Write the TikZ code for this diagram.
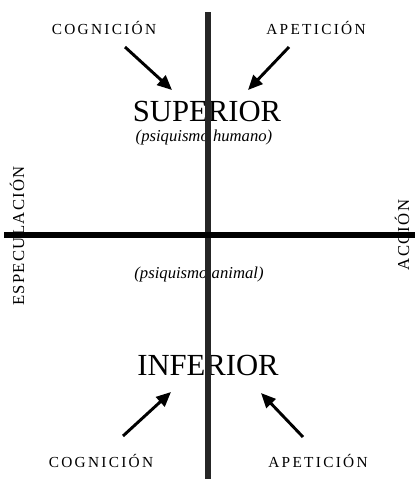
\documentclass[tikz,border=0pt]{standalone}
\usepackage{fontspec}
\setmainfont{Liberation Serif}
\newfontfamily\capsfont[LetterSpace=15]{Liberation Serif}
\newfontfamily\sidefont[LetterSpace=8]{Liberation Serif}
\usetikzlibrary{arrows.meta}

\tikzset{every picture/.style={line width=0.75pt}}
\tikzset{
label caps/.style={inner sep=0.75pt,font=\capsfont\fontsize{11.5}{13}\selectfont},
side caps/.style={inner sep=0.75pt,rotate=90,font=\sidefont\fontsize{12.5}{14}\selectfont},
big word/.style={inner sep=0.75pt,font=\fontsize{23}{26}\selectfont},
psi note/.style={inner sep=0.75pt,font=\itshape\fontsize{12.5}{14}\selectfont},
big arrow/.style={line width=2.2pt,-{Triangle[length=11pt,width=9.5pt]}},
axis line/.style={line width=4.5pt}}

\begin{document}
\begin{tikzpicture}[x=0.75pt,y=0.75pt,yscale=-1,xscale=1]
\useasboundingbox (0,0) rectangle (415,479);

% Text Node
\node [label caps] (cogtop) at (104,28) {COGNICIÓN};
% Text Node
\node [label caps] (apetop) at (316,28) {APETICIÓN};
% Text Node
\node [big word] (sup) at (207,111) {SUPERIOR};
% Text Node
\node [psi note] (humano) at (204,137) {(psiquismo humano)};
% Text Node
\node [side caps] (espec) at (17,236) {ESPECULACIÓN};
% Text Node
\node [side caps] (accion) at (402,235) {ACCIÓN};
% Text Node
\node [psi note] (animal) at (199,274) {(psiquismo animal)};
% Text Node
\node [big word] (inf) at (208,365) {INFERIOR};
% Text Node
\node [label caps] (cogbot) at (101,461) {COGNICIÓN};
% Text Node
\node [label caps] (apebot) at (318,461) {APETICIÓN};

% arrow ends
\coordinate (cogtail) at (125,47);
\coordinate (cogtip) at (172,90);
\coordinate (apetail) at (289,47);
\coordinate (apetip) at (248,90);
\coordinate (cogtail2) at (123,436);
\coordinate (cogtip2) at (171,392);
\coordinate (apetail2) at (303,437);
\coordinate (apetip2) at (261,393);

%Straight Lines
\draw [big arrow] (cogtail) -- (cogtip);
\draw [big arrow] (apetail) -- (apetip);
\draw [big arrow] (cogtail2) -- (cogtip2);
\draw [big arrow] (apetail2) -- (apetip2);

% axes
\coordinate (vtop) at (208,12);
\coordinate (vbot) at (208,479);
\coordinate (hleft) at (4,235);
\coordinate (hright) at (415,235);
\draw [line width=4.2pt,black!85] (vtop) -- (vbot);
\draw [axis line] (hleft) -- (hright);

\end{tikzpicture}
\end{document}
